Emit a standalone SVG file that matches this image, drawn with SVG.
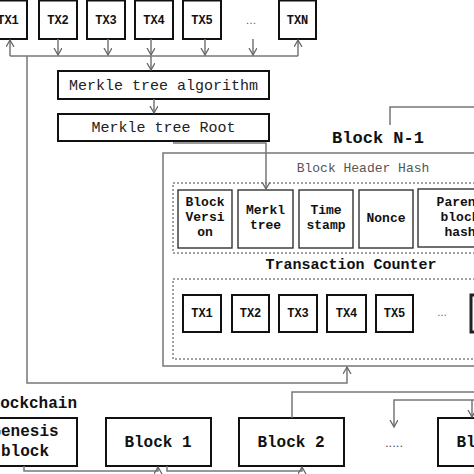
<svg xmlns="http://www.w3.org/2000/svg" width="474" height="474" viewBox="0 0 474 474">
<style>
.bx{fill:#fff;stroke:#111;stroke-width:2}
.fld{fill:#fff;stroke:#333;stroke-width:1.4}
.ln{fill:none;stroke:#777;stroke-width:1.5}
.dash{fill:none;stroke:#444;stroke-width:1;stroke-dasharray:2,2}
.t{font-family:"Liberation Mono","Courier New",monospace;font-weight:bold;fill:#111;text-anchor:middle}
.n{font-family:"Liberation Mono","Courier New",monospace;fill:#222;text-anchor:middle}
.dots{font-family:"Liberation Sans",Arial,sans-serif;fill:#555;text-anchor:middle}
</style>
<defs>
<marker id="ar" markerUnits="userSpaceOnUse" markerWidth="10" markerHeight="10" refX="7" refY="4" orient="auto">
<path d="M0,0 L7,4 L0,8" fill="none" stroke="#666" stroke-width="1.3"/>
</marker>
</defs>
<rect width="474" height="474" fill="#fff"/>

<g id="blockN1">
<rect x="163" y="153" width="340" height="213" fill="#fff" stroke="#777" stroke-width="1.5"/>
<text class="n" x="363" y="172" font-size="13" fill="#555" style="fill:#555">Block Header Hash</text>
<rect class="dash" x="173" y="183" width="330" height="70"/>
<text class="t" x="351" y="269" font-size="15">Transaction Counter</text>
<rect class="dash" x="173" y="279" width="330" height="80"/>
</g>
<text class="t" x="378" y="143" font-size="17">Block N-1</text>

<g id="hdr-version"><rect class="fld" x="178" y="190" width="54" height="58"/>
<text class="t" font-size="13" x="205" y="206">Block</text><text class="t" font-size="13" x="205" y="221">Versi</text><text class="t" font-size="13" x="205" y="236">on</text></g>
<g id="hdr-merkle"><rect class="fld" x="238" y="190" width="55" height="58"/>
<text class="t" font-size="13" x="265.5" y="214">Merkl</text><text class="t" font-size="13" x="265.5" y="229">tree</text></g>
<g id="hdr-time"><rect class="fld" x="299" y="190" width="54" height="58"/>
<text class="t" font-size="13" x="326" y="214">Time</text><text class="t" font-size="13" x="326" y="229">stamp</text></g>
<g id="hdr-nonce"><rect class="fld" x="359" y="190" width="54" height="58"/>
<text class="t" font-size="13" x="386" y="222">Nonce</text></g>
<g id="hdr-parent"><rect class="fld" x="418" y="189" width="84" height="58"/>
<text class="t" font-size="13" x="460" y="206">Parent</text><text class="t" font-size="13" x="460" y="221">block</text><text class="t" font-size="13" x="460" y="236">hash</text></g>

<g id="btx1"><rect class="bx" x="183" y="295" width="38" height="37"/><text class="t" font-size="12" x="202" y="317">TX1</text></g>
<g id="btx2"><rect class="bx" x="232" y="295" width="37" height="37"/><text class="t" font-size="12" x="250.5" y="317">TX2</text></g>
<g id="btx3"><rect class="bx" x="279" y="295" width="38" height="37"/><text class="t" font-size="12" x="298" y="317">TX3</text></g>
<g id="btx4"><rect class="bx" x="327" y="295" width="39" height="37"/><text class="t" font-size="12" x="346.5" y="317">TX4</text></g>
<g id="btx5"><rect class="bx" x="376" y="295" width="37" height="37"/><text class="t" font-size="12" x="394.5" y="317">TX5</text></g>
<text class="dots" font-size="10" x="442" y="316">…</text>
<g id="btxn"><rect x="471" y="295" width="40" height="37" fill="#fff" stroke="#222" stroke-width="3"/></g>

<g id="tx1"><rect class="bx" x="-11" y="0.5" width="38" height="38.5"/><text class="t" font-size="12" x="8" y="24">TX1</text></g>
<g id="tx2"><rect class="bx" x="39" y="0.5" width="38" height="38.5"/><text class="t" font-size="12" x="58" y="24">TX2</text></g>
<g id="tx3"><rect class="bx" x="87" y="0.5" width="38" height="38.5"/><text class="t" font-size="12" x="106" y="24">TX3</text></g>
<g id="tx4"><rect class="bx" x="135" y="0.5" width="38" height="38.5"/><text class="t" font-size="12" x="154" y="24">TX4</text></g>
<g id="tx5"><rect class="bx" x="183" y="0.5" width="38" height="38.5"/><text class="t" font-size="12" x="202" y="24">TX5</text></g>
<text class="dots" font-size="11" x="251" y="24">…</text>
<g id="txn"><rect class="bx" x="279" y="0.5" width="37" height="38.5"/><text class="t" font-size="12" x="297.5" y="24">TXN</text></g>

<g id="merkle-alg"><rect class="bx" x="58" y="71" width="211" height="28"/><text class="n" font-size="15" x="163.5" y="90">Merkle tree algorithm</text></g>
<g id="merkle-root"><rect class="bx" x="58" y="114" width="211" height="27"/><text class="n" font-size="15" x="163.5" y="132">Merkle tree Root</text></g>

<text class="t" font-size="16" x="-19" y="408" style="text-anchor:start">Blockchain</text>
<g id="genesis"><rect class="bx" x="-27" y="418" width="104" height="48"/><text class="t" font-size="16" x="25" y="436">Genesis</text><text class="t" font-size="16" x="25" y="456">block</text></g>
<g id="block1"><rect class="bx" x="106" y="418" width="105" height="48"/><text class="t" font-size="16" x="158" y="447">Block 1</text></g>
<g id="block2"><rect class="bx" x="239" y="418" width="105" height="48"/><text class="t" font-size="16" x="291" y="447">Block 2</text></g>
<text class="dots" font-size="13" x="394" y="447">.....</text>
<g id="blockN"><rect class="bx" x="438" y="418" width="105" height="48"/><text class="t" font-size="16" x="490" y="447">Block N</text></g>

<g id="connectors">
<path class="ln" d="M10,56 H298"/>
<path class="ln" d="M10,56 V40" marker-end="url(#ar)"/>
<path class="ln" d="M298,56 V40" marker-end="url(#ar)"/>
<path class="ln" d="M58,39 V55" marker-end="url(#ar)"/>
<path class="ln" d="M108,39 V55" marker-end="url(#ar)"/>
<path class="ln" d="M151,39 V55" marker-end="url(#ar)"/>
<path class="ln" d="M205,39 V55" marker-end="url(#ar)"/>
<path class="ln" d="M253,39 V55" marker-end="url(#ar)"/>
<path class="ln" d="M151,56 V70" marker-end="url(#ar)"/>
<path class="ln" d="M154,99 V113" marker-end="url(#ar)"/>
<path class="ln" d="M173,143 H266 V189" marker-end="url(#ar)"/>
<path class="ln" d="M27,56 V383 H347 V367" marker-end="url(#ar)"/>
<path class="ln" d="M390,125 V107 H474"/>
<path class="ln" d="M292,418 V392 H474"/>
<path class="ln" d="M474,400 H394 V427" marker-end="url(#ar)"/>
<path class="ln" d="M472,400 V417" marker-end="url(#ar)"/>
<path class="ln" d="M24,466 V471 H158 V467" marker-end="url(#ar)"/>
<path class="ln" d="M167,466 V471 H302 V467" marker-end="url(#ar)"/>
</g>
</svg>
